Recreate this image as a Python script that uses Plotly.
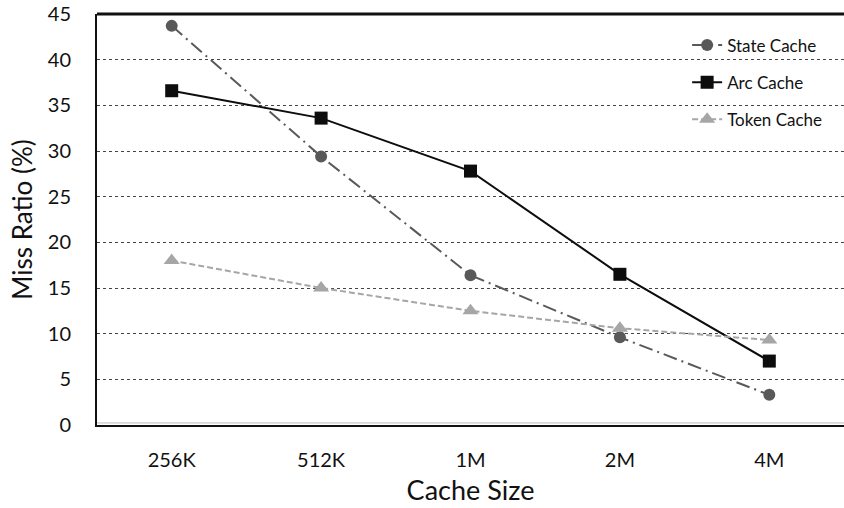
import plotly.graph_objects as go

# Cache sizes on the x axis
cache_sizes = ["256K", "512K", "1M", "2M", "4M"]

# Miss ratio (%) per cache type
state_cache = [43.7, 29.4, 16.4, 9.6, 3.3]
arc_cache = [36.6, 33.6, 27.8, 16.5, 7.0]
token_cache = [18.0, 15.0, 12.5, 10.6, 9.3]

y_ticks = [0, 5, 10, 15, 20, 25, 30, 35, 40, 45]

FONT = "Lato, Open Sans, sans-serif"

fig = go.Figure()

fig.add_trace(go.Scatter(
    x=cache_sizes, y=state_cache, name="State Cache", legendgroup="s",
    mode="lines+markers",
    line=dict(color="#595959", width=2, dash="14px,5px,2px,5px"),
    marker=dict(symbol="circle", size=12, color="#595959"),
))
fig.add_trace(go.Scatter(
    x=cache_sizes, y=arc_cache, name="Arc Cache", legendgroup="a",
    mode="lines+markers",
    line=dict(color="#0d0d0d", width=2),
    marker=dict(symbol="square", size=13, color="#0d0d0d"),
))
fig.add_trace(go.Scatter(
    x=cache_sizes, y=token_cache, name="Token Cache", legendgroup="t",
    mode="lines+markers",
    line=dict(color="#a6a6a6", width=2, dash="6px,3px"),
    marker=dict(symbol="triangle-up", size=14, color="#a6a6a6"),
))

fig.update_layout(
    width=844, height=508,
    margin=dict(l=97, r=0, t=14, b=83),
    paper_bgcolor="white", plot_bgcolor="white",
    font=dict(family=FONT, color="#111111"),
    showlegend=True,
    legend=dict(
        x=0.79, y=0.967, xanchor="left", yanchor="top",
        bgcolor="rgba(0,0,0,0)", font=dict(size=17, family=FONT),
        itemwidth=30, tracegroupgap=12,
    ),
    xaxis=dict(
        type="category", categoryorder="array", categoryarray=cache_sizes,
        range=[-0.5, 4.5],
        showline=True, linecolor="#111111", linewidth=2,
        showgrid=False, ticks="", ticklabelstandoff=16,
        tickfont=dict(size=20, family=FONT),
        title=dict(text="Cache Size", font=dict(size=27, family=FONT), standoff=11),
    ),
    yaxis=dict(
        range=[0, 45], tickvals=y_ticks,
        showline=True, linecolor="#111111", linewidth=2,
        showgrid=True, gridcolor="#444444", griddash="dot", gridwidth=1,
        zeroline=False, ticks="", ticklabelstandoff=20,
        tickfont=dict(size=20, family=FONT),
        title=dict(text="Miss Ratio (%)", font=dict(size=26, family=FONT), standoff=8),
    ),
    shapes=[
        # heavy top border of the plot area
        dict(type="line", xref="paper", yref="paper", x0=0, x1=1, y0=1, y1=1,
             line=dict(color="#111111", width=3)),
        # thin light rule just above the x axis line
        dict(type="line", xref="paper", yref="paper", x0=0, x1=1, y0=0.005, y1=0.005,
             line=dict(color="#bbbbbb", width=1)),
    ],
)

fig.write_html("out.html")
